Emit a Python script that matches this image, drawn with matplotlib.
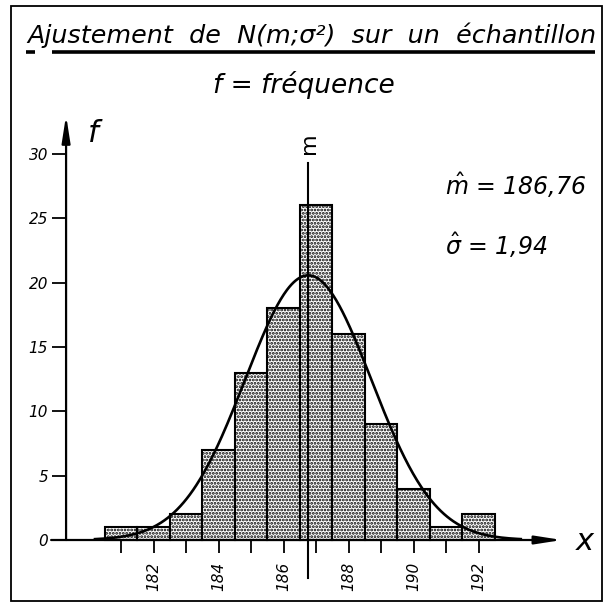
import numpy as np
import matplotlib.pyplot as plt
from matplotlib.lines import Line2D
from matplotlib.patches import Rectangle

plt.rcParams['font.family'] = ['DejaVu Sans']
plt.rcParams['mathtext.fontset'] = 'dejavusans'
plt.rcParams['hatch.linewidth'] = 1.35

# centres des classes et effectifs observés (N = 100)
centres = [181, 182, 183, 184, 185, 186, 187, 188, 189, 190, 191, 192]
effectifs = [1, 1, 2, 7, 13, 18, 26, 16, 9, 4, 1, 2]
graduations_x = list(range(181, 193))
etiquettes_x = ['182', '184', '186', '188', '190', '192']
graduations_y = [0, 5, 10, 15, 20, 25, 30]

# paramètres estimés
m_chapeau = 186.76
sigma_chapeau = 1.94

W, H = 605, 603
fig = plt.figure(figsize=(W / 100, H / 100), dpi=100)
ax = fig.add_axes([0, 0, 1, 1])
ax.set_xlim(177.277, 195.892)
ax.set_ylim(-4.895, 41.96)

def px(x, y):
    # pixels (origine en haut à gauche) -> fraction de figure
    return x / W, 1 - y / H

# cadre
fig.patches.append(Rectangle(px(11, 601), 591 / W, 595 / H, transform=fig.transFigure,
                             fill=False, lw=1.3, ec='black'))

# titre souligné
fig.text(*px(27, 43), 'Ajustement  de  N(m;σ²)  sur  un  échantillon',
         fontsize=18.3, style='italic', ha='left', va='baseline')
fig.lines.append(Line2D([52 / W, 595 / W], [1 - 52 / H] * 2, transform=fig.transFigure,
                        lw=2.6, color='black', solid_capstyle='butt'))
fig.lines.append(Line2D([26 / W, 35 / W], [1 - 52 / H] * 2, transform=fig.transFigure,
                        lw=2.6, color='black', solid_capstyle='butt'))
fig.text(*px(304, 93), 'f = fréquence', fontsize=19, style='italic',
         ha='center', va='baseline')

# histogramme
ax.bar(centres, effectifs, width=1, facecolor='white', edgecolor='black',
       hatch='.....', lw=1.5, zorder=2)

# courbe normale ajustée
N = sum(effectifs)
xs = np.linspace(180.2, 193.3, 400)
ys = N / (sigma_chapeau * np.sqrt(2 * np.pi)) * np.exp(-0.5 * ((xs - m_chapeau) / sigma_chapeau) ** 2)
ax.plot(xs, ys, color='black', lw=1.9, zorder=4)

# axes fléchés
x_axe_y = 179.31
for s in ax.spines.values():
    s.set_visible(False)
ax.spines['left'].set_position(('data', x_axe_y))
ax.spines['bottom'].set_position(('data', 0))
fleche = dict(arrowstyle='-|>,head_length=1.6,head_width=0.25', lw=1.6, color='black',
              shrinkA=0, shrinkB=0)
ax.annotate('', xy=(194.57, 0), xytext=(178.85, 0), arrowprops=fleche,
            annotation_clip=False, zorder=3)
ax.annotate('', xy=(x_axe_y, 33.0), xytext=(x_axe_y, 0), arrowprops=fleche,
            annotation_clip=False, zorder=3)

ax.set_xticks(graduations_x)
ax.set_xticklabels([str(t) if str(t) in etiquettes_x else '' for t in graduations_x],
                   rotation=90, style='italic', fontsize=11)
ax.set_yticks(graduations_y)
ax.set_yticklabels([str(t) for t in graduations_y], style='italic', fontsize=11)
ax.tick_params(axis='x', direction='out', length=9.5, width=1.3, pad=6)
ax.tick_params(axis='y', direction='out', length=10, width=1.3, pad=3)

ax.text(180.14, 31.6, 'f', fontsize=22, style='italic', ha='center', va='center')
ax.text(195.28, -0.15, r'$\mathit{x}$', fontsize=22, ha='center', va='center')

# droite de la moyenne
ax.plot([m_chapeau, m_chapeau], [-2.95, 29.3], color='black', lw=1.5, zorder=5,
        clip_on=False)
ax.text(m_chapeau + 0.03, 30.85, 'm', fontsize=16, rotation=90, ha='center', va='center')

# valeurs estimées
ax.text(*ax.transData.inverted().transform(ax.transAxes.transform(px(445, 195))),
        r'$\hat{m}$ = %s' % f'{m_chapeau:.2f}'.replace('.', ','),
        fontsize=17, style='italic', ha='left', va='baseline')
ax.text(*ax.transData.inverted().transform(ax.transAxes.transform(px(445, 255))),
        r'$\hat{\sigma}$ = %s' % f'{sigma_chapeau:.2f}'.replace('.', ','),
        fontsize=17, style='italic', ha='left', va='baseline')

fig.savefig('out.png', dpi=100)
